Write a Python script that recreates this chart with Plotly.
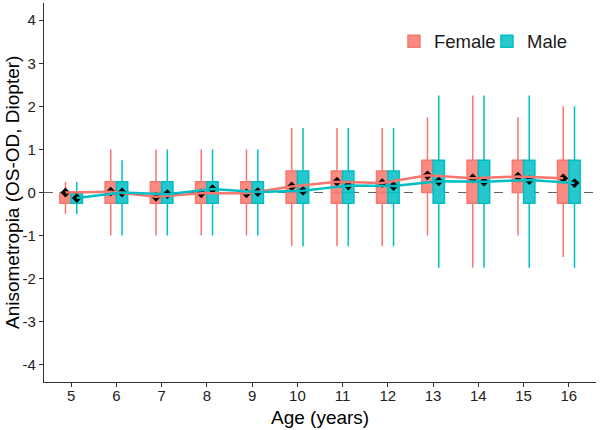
import numpy as np
import plotly.graph_objects as go

ages = ["5", "6", "7", "8", "9", "10", "11", "12", "13", "14", "15", "16"]
y_ticks = [-4, -3, -2, -1, 0, 1, 2, 3, 4]
y_ticklabels = ["-4", "-3", "-2", "-1", "0", "1", "2", "3", "4"]

# Female box statistics
f_q1 = [-0.25, -0.25, -0.25, -0.25, -0.25, -0.25, -0.25, -0.25, 0.0, -0.25, 0.0, -0.25]
f_med = [0.0, 0.0, 0.0, 0.0, 0.0, 0.0, 0.0, 0.0, 0.25, 0.25, 0.25, 0.25]
f_q3 = [0.0, 0.25, 0.25, 0.25, 0.25, 0.5, 0.5, 0.5, 0.75, 0.75, 0.75, 0.75]
f_lo = [-0.5, -1.0, -1.0, -1.0, -1.0, -1.25, -1.25, -1.25, -1.0, -1.75, -1.0, -1.5]
f_hi = [0.25, 1.0, 1.0, 1.0, 1.0, 1.5, 1.5, 1.5, 1.75, 2.25, 1.75, 2.0]
f_mean = [0.0, 0.02, -0.1, -0.02, -0.02, 0.14, 0.25, 0.22, 0.40, 0.33, 0.37, 0.33]

# Male box statistics
m_q1 = [-0.25, -0.25, -0.25, -0.25, -0.25, -0.25, -0.25, -0.25, -0.25, -0.25, -0.25, -0.25]
m_med = [0.0, 0.0, 0.0, 0.0, 0.0, 0.0, 0.0, 0.0, 0.25, 0.25, 0.25, 0.25]
m_q3 = [0.0, 0.25, 0.25, 0.25, 0.25, 0.5, 0.5, 0.5, 0.75, 0.75, 0.75, 0.75]
m_lo = [-0.5, -1.0, -1.0, -1.0, -1.0, -1.25, -1.25, -1.25, -1.75, -1.75, -1.75, -1.75]
m_hi = [0.25, 0.75, 1.0, 1.0, 1.0, 1.5, 1.5, 1.5, 2.25, 2.25, 2.25, 2.0]
m_mean = [-0.13, 0.0, -0.04, 0.08, 0.01, 0.04, 0.16, 0.15, 0.26, 0.25, 0.29, 0.22]

idx = np.arange(len(ages))
dodge = 0.125
xf = idx - dodge
xm = idx + dodge

F_LINE, F_FILL = "#F8766D", "#F98B83"
M_LINE, M_FILL = "#00BFC4", "#26C8CD"
FONT = "Liberation Sans, Arial, sans-serif"

fig = go.Figure()
fig.add_trace(go.Box(x=xf, q1=f_q1, median=f_med, q3=f_q3, lowerfence=f_lo, upperfence=f_hi,
                     width=0.25, fillcolor=F_FILL, line=dict(color=F_LINE, width=1.5),
                     whiskerwidth=0, name="Female", boxpoints=False, hoverinfo="skip"))
fig.add_trace(go.Box(x=xm, q1=m_q1, median=m_med, q3=m_q3, lowerfence=m_lo, upperfence=m_hi,
                     width=0.25, fillcolor=M_FILL, line=dict(color=M_LINE, width=1.5),
                     whiskerwidth=0, name="Male", boxpoints=False, hoverinfo="skip"))
fig.add_trace(go.Scatter(x=np.concatenate([xf, xm]), y=f_mean + m_mean, mode="markers",
                         marker=dict(symbol="diamond", size=7.5, color="black"), showlegend=False))
# mean lines on an overlaid axis pair so they sit above the diamonds
fig.add_trace(go.Scatter(x=xf, y=f_mean, mode="lines", line=dict(color=F_LINE, width=2.5),
                         showlegend=False, xaxis="x2", yaxis="y2"))
fig.add_trace(go.Scatter(x=xm, y=m_mean, mode="lines", line=dict(color=M_LINE, width=2.5),
                         showlegend=False, xaxis="x2", yaxis="y2"))

fig.add_shape(type="line", xref="paper", x0=0, x1=1, yref="y", y0=0, y1=0,
              line=dict(color="#606060", width=1.2, dash="dash"), layer="below")

tick_font = dict(family=FONT, size=15, color="#222222")
XR = [-0.6, 11.6]
YR = [-4.4, 4.4]
fig.update_layout(
    width=600, height=430,
    margin=dict(l=44, r=4, t=3, b=48),
    paper_bgcolor="white", plot_bgcolor="white",
    boxmode="overlay",
    font=dict(family=FONT, color="black"),
    showlegend=True,
    legend=dict(orientation="h", x=0.634, y=0.948, xanchor="left", yanchor="top",
                font=dict(size=18.5, color="#1a1a1a"), bgcolor="rgba(0,0,0,0)",
                itemwidth=30, entrywidth=48, entrywidthmode="pixels"),
    xaxis=dict(range=XR, tickmode="array", tickvals=idx, ticktext=ages, automargin=False,
               showgrid=False, zeroline=False, showline=True, linecolor="#333333", linewidth=1.3,
               ticks="outside", ticklen=4, tickcolor="#333333", tickfont=tick_font,
               ticklabelstandoff=-4),
    yaxis=dict(range=YR, tickmode="array", tickvals=y_ticks, ticktext=y_ticklabels, automargin=False,
               showgrid=False, zeroline=False, showline=True, linecolor="#333333", linewidth=1.3,
               ticks="outside", ticklen=4, tickcolor="#333333", tickfont=tick_font),
    xaxis2=dict(range=XR, overlaying="x", visible=False),
    yaxis2=dict(range=YR, overlaying="y", visible=False),
    annotations=[
        dict(text="Age (years)", xref="paper", yref="paper", x=0.5, y=-0.094,
             xanchor="center", yanchor="middle", showarrow=False,
             font=dict(family=FONT, size=19, color="black")),
        dict(text="Anisometropia (OS-OD, Diopter)", xref="paper", yref="paper", x=-0.057, y=0.5,
             xanchor="center", yanchor="middle", textangle=-90, showarrow=False,
             font=dict(family=FONT, size=19, color="black")),
    ],
)

fig.write_html("out.html", config={"displayModeBar": False},
               post_script="document.body.style.margin='0';")
